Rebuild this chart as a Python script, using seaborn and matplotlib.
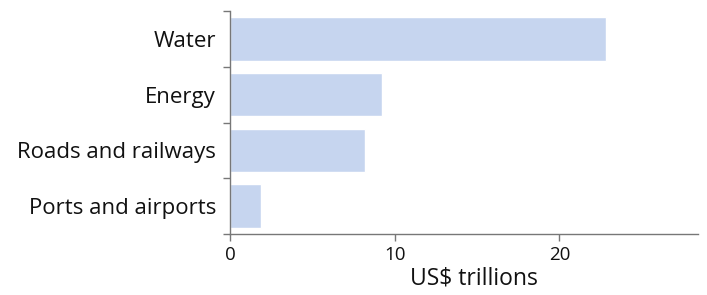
import matplotlib
matplotlib.use("Agg")
import matplotlib.pyplot as plt
import seaborn as sns
import pandas as pd
from matplotlib.ticker import FixedLocator

sectors = ["Water", "Energy", "Roads and railways", "Ports and airports"]
values = [22.8, 9.2, 8.2, 1.9]

df = pd.DataFrame({"sector": sectors, "value": values})

sns.set_style("white")
plt.rcParams["font.family"] = ["Open Sans", "DejaVu Sans"]

fig = plt.figure(figsize=(7.07, 2.95), dpi=100)
ax = fig.add_axes([0.3253, 0.2068, 0.987 - 0.3253, 0.962 - 0.2068])

sns.barplot(data=df, x="value", y="sector", orient="h", color="#c6d5ef",
            saturation=1, width=0.78, ax=ax)

ax.set_xlim(0, 28.4)
ax.set_ylim(len(sectors) - 0.5, -0.5)
ax.set_xticks([0, 10, 20])
ax.set_xlabel("US$ trillions", fontsize=16.5, color="#111111")
ax.xaxis.set_label_coords(0.521, -0.148)
ax.set_ylabel("")

# y tick marks at band boundaries, labels centred
ax.yaxis.set_minor_locator(FixedLocator([i - 0.5 for i in range(len(sectors) + 1)]))
ax.tick_params(axis="y", which="major", length=0, pad=10, labelsize=16, labelcolor="#111111")
ax.tick_params(axis="y", which="minor", length=5, width=1, color="#777777", left=True)
ax.tick_params(axis="x", which="major", length=5, width=1, color="#777777",
               bottom=True, labelsize=13.5, labelcolor="#111111")

for s in ["top", "right"]:
    ax.spines[s].set_visible(False)
for s in ["left", "bottom"]:
    ax.spines[s].set_color("#777777")
    ax.spines[s].set_linewidth(1)

fig.savefig("out.png", dpi=100)
